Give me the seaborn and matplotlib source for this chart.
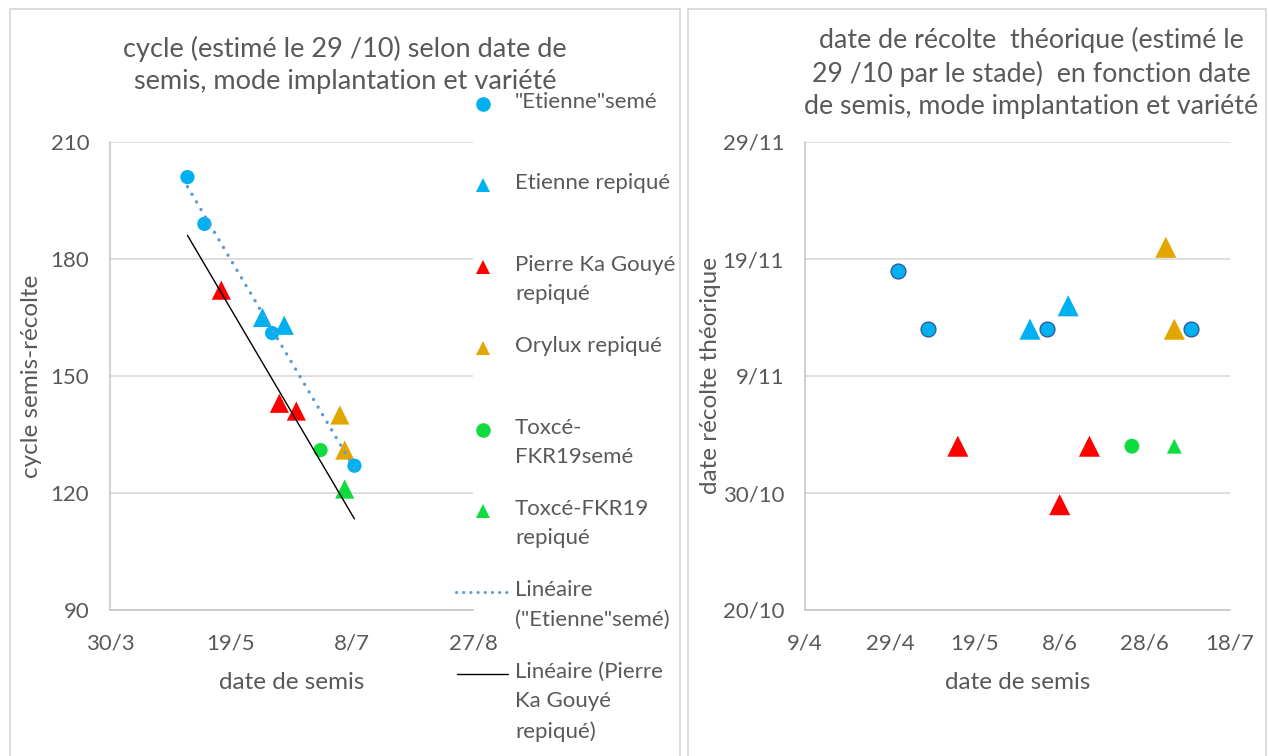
import matplotlib
matplotlib.use("Agg")
import matplotlib.pyplot as plt
import matplotlib.dates as mdates
from matplotlib.patches import Rectangle
from matplotlib.lines import Line2D
import numpy as np
import pandas as pd
import seaborn as sns

# ---------------- data ----------------
legend_labels = ['"Etienne"semé', 'Etienne repiqué', 'Pierre Ka Gouyé\nrepiqué',
                 'Orylux repiqué', 'Toxcé-\nFKR19semé', 'Toxcé-FKR19\nrepiqué',
                 'Linéaire\n("Etienne"semé)', 'Linéaire (Pierre\nKa Gouyé\nrepiqué)']

etienne_seme_sow = ['2019-05-01', '2019-05-08', '2019-06-05', '2019-07-09']
etienne_seme_cycle = [201, 189, 161, 127]
etienne_seme_harvest = ['2019-11-18', '2019-11-13', '2019-11-13', '2019-11-13']

etienne_rep_sow = ['2019-06-01', '2019-06-10']
etienne_rep_cycle = [165, 163]
etienne_rep_harvest = ['2019-11-13', '2019-11-15']

pierre_sow = ['2019-05-15', '2019-06-08', '2019-06-15']
pierre_cycle = [172, 143, 141]
pierre_harvest = ['2019-11-03', '2019-10-29', '2019-11-03']

orylux_sow = ['2019-07-03', '2019-07-05']
orylux_cycle = [140, 131]
orylux_harvest = ['2019-11-20', '2019-11-13']

toxce_seme_sow = ['2019-06-25']
toxce_seme_cycle = [131]
toxce_seme_harvest = ['2019-11-03']

toxce_rep_sow = ['2019-07-05']
toxce_rep_cycle = [121]
toxce_rep_harvest = ['2019-11-03']

left_xticks = ['2019-03-30', '2019-05-19', '2019-07-08', '2019-08-27']
left_yticks = [90, 120, 150, 180, 210]
right_xticks = ['2019-04-09', '2019-04-29', '2019-05-19', '2019-06-08', '2019-06-28', '2019-07-18']
right_yticks = ['2019-10-20', '2019-10-30', '2019-11-09', '2019-11-19', '2019-11-29']

# Excel trendline forecast (days) for the Pierre Ka Gouyé trend
pierre_forecast_back = 14
pierre_forecast_fwd = 24

# ---------------- style ----------------
C_BLUE = '#00B0F0'
C_RED = '#FF0000'
C_GOLD = '#E3A600'
C_GREEN = '#10DC40'
C_TREND = '#5B9BD5'
TXT = '#595959'
GRID = '#D9D9D9'

sns.set_style('white')
plt.rcParams['font.family'] = ['Lato', 'DejaVu Sans']

W, H = 1269, 756
fig = plt.figure(figsize=(W / 100, H / 100), dpi=100)


def fx(px):
    return px / W


def fy(py):
    return 1 - py / H


def d(lst):
    return mdates.date2num(pd.to_datetime(lst))


# chart boxes
for x0, x1 in [(10, 680), (688, 1266)]:
    fig.patches.append(Rectangle((fx(x0), fy(770)), fx(x1) - fx(x0), fy(9) - fy(770),
                                 transform=fig.transFigure, fill=False,
                                 edgecolor=GRID, lw=1.3))

axL = fig.add_axes([fx(110), fy(610), fx(473) - fx(110), fy(142) - fy(610)])
axR = fig.add_axes([fx(805), fy(610), fx(1229.5) - fx(805), fy(142) - fy(610)])


def pts(ax, x, y, color, marker, s, edge=None, z=3):
    sns.scatterplot(x=x, y=y, ax=ax, color=color, marker=marker, s=s,
                    linewidth=(0.9 if edge else 0), edgecolor=(edge if edge else 'none'),
                    zorder=z, legend=False)


# ----- left chart -----
pts(axL, d(etienne_rep_sow), etienne_rep_cycle, C_BLUE, '^', 190)
pts(axL, d(pierre_sow), pierre_cycle, C_RED, '^', 190)
pts(axL, d(orylux_sow), orylux_cycle, C_GOLD, '^', 190)
pts(axL, d(toxce_seme_sow), toxce_seme_cycle, C_GREEN, 'o', 105)
pts(axL, d(toxce_rep_sow), toxce_rep_cycle, C_GREEN, '^', 190)
pts(axL, d(etienne_seme_sow), etienne_seme_cycle, C_BLUE, 'o', 105, z=4)

# trend lines (linear least squares)
xe = d(etienne_seme_sow)
ke = np.polyfit(xe, etienne_seme_cycle, 1)
xr = np.array([xe.min(), xe.max()])
axL.plot(xr, np.polyval(ke, xr), color=C_TREND, lw=2.4,
         dashes=(0.05, 2.6), dash_capstyle='round', zorder=5)

xp = d(pierre_sow)
kp = np.polyfit(xp, pierre_cycle, 1)
xr2 = np.array([xp.min() - pierre_forecast_back, xp.max() + pierre_forecast_fwd])
axL.plot(xr2, np.polyval(kp, xr2), color='black', lw=1.0, zorder=5)

axL.set_xlim(d(left_xticks)[0], d(left_xticks)[-1])
axL.set_ylim(left_yticks[0], left_yticks[-1])
axL.set_xticks(d(left_xticks))
axL.set_yticks(left_yticks)
axL.set_xlabel('date de semis', fontsize=17.5, color=TXT, labelpad=13)
axL.set_ylabel('cycle semis-récolte', fontsize=17.5, color=TXT, labelpad=6)

# ----- right chart -----
pts(axR, d(etienne_rep_sow), d(etienne_rep_harvest), C_BLUE, '^', 230)
pts(axR, d(pierre_sow), d(pierre_harvest), C_RED, '^', 230)
pts(axR, d(orylux_sow), d(orylux_harvest), C_GOLD, '^', 230)
pts(axR, d(toxce_seme_sow), d(toxce_seme_harvest), C_GREEN, 'o', 115)
pts(axR, d(toxce_rep_sow), d(toxce_rep_harvest), C_GREEN, '^', 115)
pts(axR, d(etienne_seme_sow), d(etienne_seme_harvest), C_BLUE, 'o', 115, edge='#2F5597', z=4)

axR.set_xlim(d(right_xticks)[0], d(right_xticks)[-1])
axR.set_ylim(d(right_yticks)[0], d(right_yticks)[-1])
axR.set_xticks(d(right_xticks))
axR.set_yticks(d(right_yticks))
axR.set_xlabel('date de semis', fontsize=17.5, color=TXT, labelpad=13)
axR.set_ylabel('date récolte théorique', fontsize=17.5, color=TXT, labelpad=1)

fmt = mdates.DateFormatter('%-d/%-m')
axL.xaxis.set_major_formatter(fmt)
axR.xaxis.set_major_formatter(fmt)
axR.yaxis.set_major_formatter(fmt)

for ax in (axL, axR):
    ax.grid(axis='y', color=GRID, lw=1.2)
    ax.grid(axis='x', visible=False)
    ax.set_axisbelow(True)
    for s in ('top', 'right'):
        ax.spines[s].set_visible(False)
    for s in ('left', 'bottom'):
        ax.spines[s].set_color('#C8C8C8')
        ax.spines[s].set_linewidth(1.2)
    ax.tick_params(length=0, labelsize=16, colors=TXT)
    ax.tick_params(axis='x', pad=17)
    ax.tick_params(axis='y', pad=15)
    ax.set_facecolor('none')

# ----- titles -----
fig.text(fx(345), fy(65), 'cycle (estimé le 29 /10) selon date de\nsemis, mode implantation et variété',
         ha='center', va='center', fontsize=19.5, color=TXT, linespacing=1.37)
fig.text(fx(1031), fy(73), 'date de récolte  théorique (estimé le\n29 /10 par le stade)  en fonction date\nde semis, mode implantation et variété',
         ha='center', va='center', fontsize=19.3, color=TXT, linespacing=1.38)

# ----- legend (Excel-like fixed slots) -----
legax = fig.add_axes([0, 0, 1, 1], zorder=10)
legax.set_xlim(0, W)
legax.set_ylim(H, 0)
legax.axis('off')
leg_styles = [('o', C_BLUE), ('^', C_BLUE), ('^', C_RED), ('^', C_GOLD),
              ('o', C_GREEN), ('^', C_GREEN), ('dot', C_TREND), ('line', 'black')]
slot0, slot = 104, 81.4
for i, ((kind, col), lab) in enumerate(zip(leg_styles, legend_labels)):
    y = slot0 + i * slot
    if kind == 'dot':
        legax.add_line(Line2D([456, 508], [y, y], color=col, lw=2.2, dashes=(0.05, 2.3),
                              dash_capstyle='round'))
    elif kind == 'line':
        legax.add_line(Line2D([457, 508], [y, y], color=col, lw=1.0))
    else:
        legax.add_line(Line2D([483], [y], marker=kind, color=col, markersize=10.5 if kind == 'o' else 10,
                              markeredgewidth=0, linestyle='none'))
    legax.text(515, y - 12, lab, ha='left', va='top', fontsize=16, color=TXT,
               linespacing=1.59, transform=legax.transData)

fig.savefig('out.png', dpi=100, facecolor='white')
